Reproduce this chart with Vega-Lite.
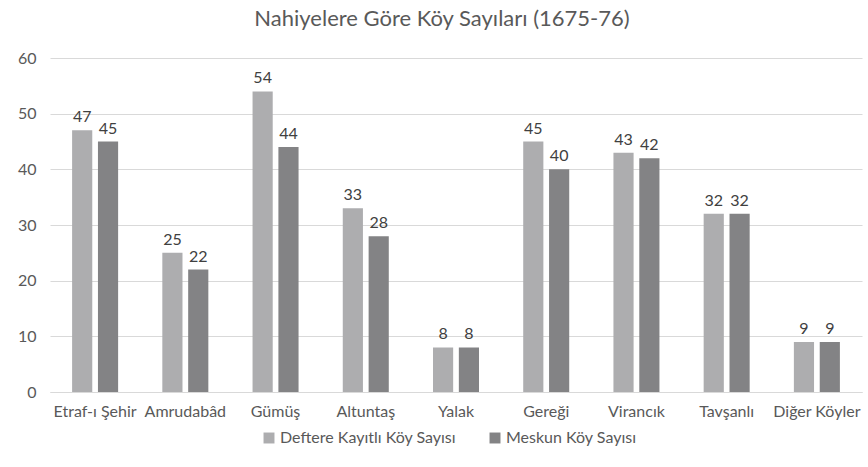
{
  "$schema": "https://vega.github.io/schema/vega-lite/v6.json",
  "autosize": {"type": "none"},
  "width": 812,
  "height": 334,
  "padding": {"left": 50, "top": 58, "right": 6, "bottom": 75},
  "background": "white",
  "config": {
    "view": {"stroke": null},
    "font": "Lato"
  },
  "title": {
    "text": "Nahiyelere Göre Köy Sayıları (1675-76)",
    "font": "Lato",
    "fontSize": 22,
    "fontWeight": "normal",
    "color": "#595959",
    "anchor": "middle",
    "offset": 19,
    "dx": -14
  },
  "data": {
    "values": [
      {"nahiye": "Etraf-ı Şehir", "seri": "Deftere Kayıtlı Köy Sayısı", "deger": 47},
      {"nahiye": "Etraf-ı Şehir", "seri": "Meskun Köy Sayısı", "deger": 45},
      {"nahiye": "Amrudabâd", "seri": "Deftere Kayıtlı Köy Sayısı", "deger": 25},
      {"nahiye": "Amrudabâd", "seri": "Meskun Köy Sayısı", "deger": 22},
      {"nahiye": "Gümüş", "seri": "Deftere Kayıtlı Köy Sayısı", "deger": 54},
      {"nahiye": "Gümüş", "seri": "Meskun Köy Sayısı", "deger": 44},
      {"nahiye": "Altuntaş", "seri": "Deftere Kayıtlı Köy Sayısı", "deger": 33},
      {"nahiye": "Altuntaş", "seri": "Meskun Köy Sayısı", "deger": 28},
      {"nahiye": "Yalak", "seri": "Deftere Kayıtlı Köy Sayısı", "deger": 8},
      {"nahiye": "Yalak", "seri": "Meskun Köy Sayısı", "deger": 8},
      {"nahiye": "Gereği", "seri": "Deftere Kayıtlı Köy Sayısı", "deger": 45},
      {"nahiye": "Gereği", "seri": "Meskun Köy Sayısı", "deger": 40},
      {"nahiye": "Virancık", "seri": "Deftere Kayıtlı Köy Sayısı", "deger": 43},
      {"nahiye": "Virancık", "seri": "Meskun Köy Sayısı", "deger": 42},
      {"nahiye": "Tavşanlı", "seri": "Deftere Kayıtlı Köy Sayısı", "deger": 32},
      {"nahiye": "Tavşanlı", "seri": "Meskun Köy Sayısı", "deger": 32},
      {"nahiye": "Diğer Köyler", "seri": "Deftere Kayıtlı Köy Sayısı", "deger": 9},
      {"nahiye": "Diğer Köyler", "seri": "Meskun Köy Sayısı", "deger": 9}
    ]
  },
  "encoding": {
    "x": {
      "field": "nahiye",
      "type": "nominal",
      "sort": null,
      "scale": {"paddingInner": 0.49, "paddingOuter": 0.245},
      "axis": {
        "title": null,
        "labelAngle": 0,
        "labelFontSize": 16,
        "labelColor": "#595959",
        "labelPadding": 11,
        "labelOverlap": false,
        "ticks": false,
        "domainColor": "#d9d9d9",
        "domainWidth": 1
      }
    },
    "xOffset": {
      "field": "seri",
      "type": "nominal",
      "sort": ["Deftere Kayıtlı Köy Sayısı", "Meskun Köy Sayısı"],
      "scale": {"paddingInner": 0.22, "paddingOuter": 0}
    },
    "y": {
      "field": "deger",
      "type": "quantitative",
      "scale": {"domain": [0, 60], "nice": false},
      "axis": {
        "title": null,
        "values": [0, 10, 20, 30, 40, 50, 60],
        "labelFontSize": 16,
        "labelColor": "#595959",
        "labelPadding": 14,
        "ticks": false,
        "domain": false,
        "gridColor": "#d9d9d9",
        "gridWidth": 1
      }
    }
  },
  "layer": [
    {
      "mark": {"type": "bar"},
      "encoding": {
        "color": {
          "field": "seri",
          "type": "nominal",
          "scale": {
            "domain": ["Deftere Kayıtlı Köy Sayısı", "Meskun Köy Sayısı"],
            "range": ["#adadaf", "#838385"]
          },
          "legend": {
            "title": null,
            "orient": "none",
            "direction": "horizontal",
            "legendX": 211,
            "legendY": 372,
            "symbolType": "square",
            "symbolSize": 120,
            "symbolStrokeWidth": 0,
            "labelFontSize": 16,
            "labelLimit": 400,
            "labelColor": "#595959",
            "labelOffset": 3,
            "columnPadding": 30
          }
        }
      }
    },
    {
      "mark": {"type": "text", "baseline": "bottom", "dy": -5, "fontSize": 16, "color": "#404040"},
      "encoding": {
        "text": {"field": "deger", "type": "quantitative"}
      }
    }
  ]
}
